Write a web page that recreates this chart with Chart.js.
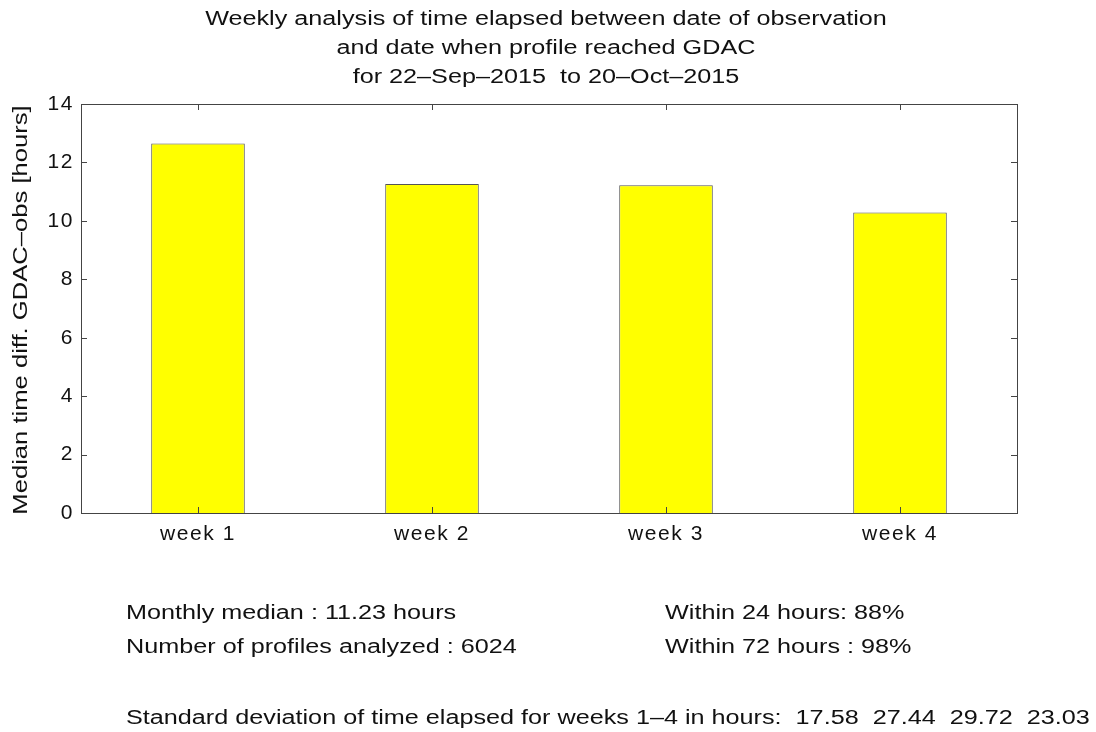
<!DOCTYPE html>
<html>
<head>
<meta charset="utf-8">
<script src="https://cdn.jsdelivr.net/npm/chart.js@4/dist/chart.umd.min.js"></script>
<style>
  html, body { margin: 0; padding: 0; background: #fff; }
  #wrap { width: 1096px; height: 732px; }
</style>
</head>
<body>
<div id="wrap"><canvas id="myChart" width="1096" height="732"></canvas></div>
<script>
const weeks = ['week 1', 'week 2', 'week 3', 'week 4'];
const medianHours = [12.65, 11.26, 11.22, 10.29];
const titleLines = [
    'Weekly analysis of time elapsed between date of observation',
    'and date when profile reached GDAC',
    'for 22\u2013Sep\u20132015  to 20\u2013Oct\u20132015'
];
const yTitle = 'Median time diff. GDAC\u2013obs [hours]';
const leftNotes = ['Monthly median : 11.23 hours', 'Number of profiles analyzed : 6024'];
const rightNotes = ['Within 24 hours: 88%', 'Within 72 hours : 98%'];
const stdDev = ['17.58', '27.44', '29.72', '23.03'];

const FONT = 'Liberation Sans, Arial, sans-serif';
const STRETCH = 1.26; // the matlab text is wider than arial

// tick labels get a bit of letter spacing to match the wide text
const spacingPlugin = {
    id: 'spacing',
    beforeDraw(chart) {
        chart.ctx.letterSpacing = '1.6px';
    }
};

function wideText(c, str, x, y, rot, sx) {
    c.save();
    c.translate(x, y);
    if (rot) c.rotate(rot);
    c.scale(sx, 1);
    c.fillText(str, 0, 0);
    c.restore();
}

// box, inward ticks and the text around the plot
const framePlugin = {
    id: 'frame',
    afterDraw(chart) {
        const c = chart.ctx;
        const a = chart.chartArea;
        const x = chart.scales.x, y = chart.scales.y;
        c.save();
        c.strokeStyle = '#444';
        c.lineWidth = 1;
        c.strokeRect(a.left + 0.5, a.top + 0.5, a.right - a.left, a.bottom - a.top);
        c.beginPath();
        y.ticks.forEach(t => {
            const py = Math.round(y.getPixelForValue(t.value)) + 0.5;
            c.moveTo(a.left, py); c.lineTo(a.left + 6, py);
            c.moveTo(a.right, py); c.lineTo(a.right - 6, py);
        });
        weeks.forEach((w, i) => {
            const px = Math.round(x.getPixelForValue(i)) + 0.5;
            c.moveTo(px, a.bottom); c.lineTo(px, a.bottom - 6);
            c.moveTo(px, a.top); c.lineTo(px, a.top + 6);
        });
        c.stroke();

        c.letterSpacing = '0px';
        c.fillStyle = '#111';
        c.font = '20px ' + FONT;
        c.textAlign = 'center';
        c.textBaseline = 'middle';
        titleLines.forEach((t, i) => wideText(c, t, 546, 19 + i * 29, 0, STRETCH));
        wideText(c, yTitle, 21, 310, -Math.PI / 2, 1.28);

        c.textAlign = 'left';
        leftNotes.forEach((t, i) => wideText(c, t, 126, 613 + i * 34, 0, STRETCH));
        rightNotes.forEach((t, i) => wideText(c, t, 665, 613 + i * 34, 0, STRETCH));
        wideText(c, 'Standard deviation of time elapsed for weeks 1\u20134 in hours:  ' + stdDev.join('  '), 126, 718, 0, STRETCH);
        c.restore();
    }
};

const ctx = document.getElementById('myChart').getContext('2d');
const myChart = new Chart(ctx, {
    type: 'bar',
    data: {
        labels: weeks,
        datasets: [{
            data: medianHours,
            backgroundColor: '#ffff00',
            borderColor: '#555555',
            borderWidth: 1,
            barPercentage: 0.4,
            categoryPercentage: 1.0
        }]
    },
    options: {
        responsive: false,
        animation: false,
        layout: { padding: { top: 104, right: 79, left: 0, bottom: 0 } },
        plugins: { legend: { display: false }, tooltip: { enabled: false } },
        scales: {
            x: {
                grid: { display: false, drawTicks: false },
                border: { display: false },
                ticks: { color: '#111', font: { family: FONT, size: 21 }, padding: 9 },
                afterFit(s) { s.height = 219; }
            },
            y: {
                min: 0,
                max: 14,
                grid: { display: false, drawTicks: false },
                border: { display: false },
                ticks: { stepSize: 2, color: '#111', font: { family: FONT, size: 21 }, padding: 7 },
                afterFit(s) { s.width = 81; }
            }
        }
    },
    plugins: [spacingPlugin, framePlugin]
});
</script>
</body>
</html>
